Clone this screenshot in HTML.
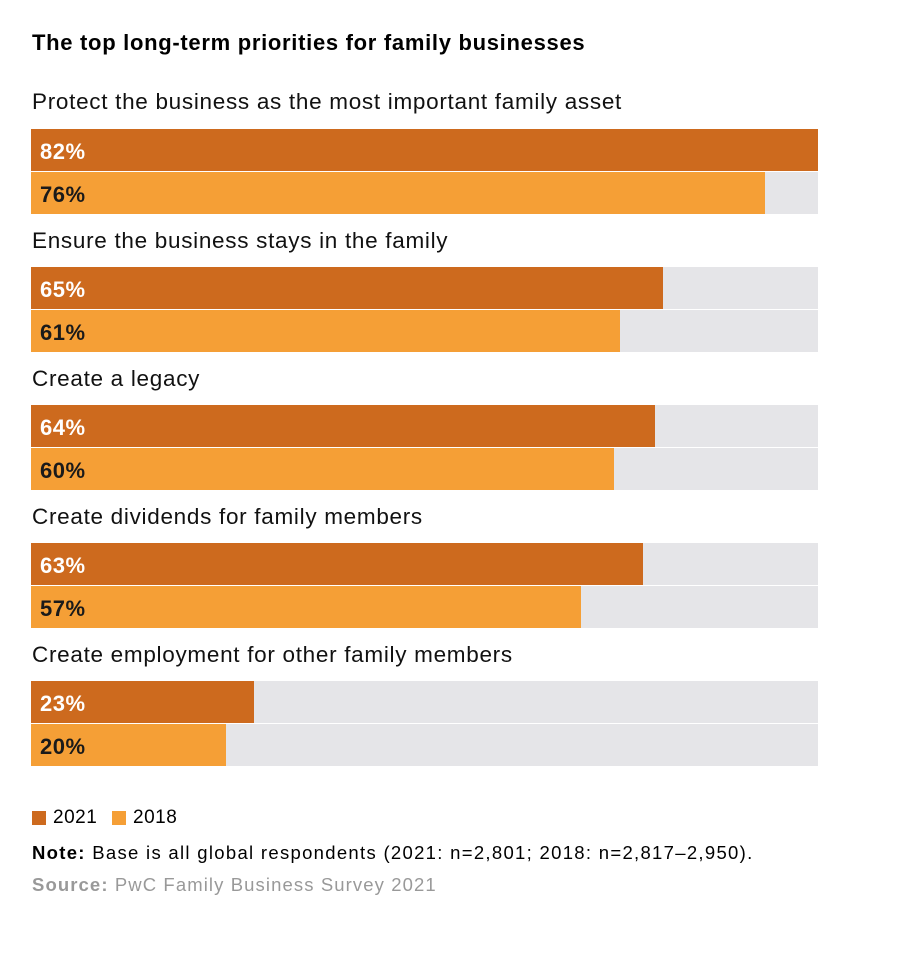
<!DOCTYPE html>
<html><head><meta charset="utf-8"><style>
body{margin:0;width:905px;height:955px;background:#fff;font-family:"Liberation Sans",sans-serif;position:relative;overflow:hidden}
div{position:absolute}
.t{left:32px;top:30px;font-size:22px;letter-spacing:0.7px;font-weight:bold;color:#000;white-space:nowrap}
.l{left:32px;font-size:22.5px;letter-spacing:0.7px;color:#111;white-space:nowrap}
.bg{left:31px;width:787px;height:42px;background:#e5e5e8}
.b{left:0;top:0;height:42px}
.d{background:#cd6a1e}.o{background:#f59f36}
.v{left:9px;top:10px;font-size:22px;letter-spacing:0.5px;font-weight:bold}
.d .v{color:#fff}.o .v{color:#1a1a1a}
.sq{width:14px;height:14px;top:811px}
.s{font-size:18.5px;letter-spacing:1.3px;white-space:nowrap;left:32px}
</style></head><body>
<div class="t">The top long-term priorities for family businesses</div>

<div class="l" style="top:89px">Protect the business as the most important family asset</div>
<div class="bg" style="top:129px"><div class="b d" style="width:787px"><div class="v">82%</div></div></div>
<div class="bg" style="top:172px"><div class="b o" style="width:734px"><div class="v">76%</div></div></div>

<div class="l" style="top:228px">Ensure the business stays in the family</div>
<div class="bg" style="top:267px"><div class="b d" style="width:632px"><div class="v">65%</div></div></div>
<div class="bg" style="top:310px"><div class="b o" style="width:589px"><div class="v">61%</div></div></div>

<div class="l" style="top:366px">Create a legacy</div>
<div class="bg" style="top:405px"><div class="b d" style="width:624px"><div class="v">64%</div></div></div>
<div class="bg" style="top:448px"><div class="b o" style="width:583px"><div class="v">60%</div></div></div>

<div class="l" style="top:504px">Create dividends for family members</div>
<div class="bg" style="top:543px"><div class="b d" style="width:612px"><div class="v">63%</div></div></div>
<div class="bg" style="top:586px"><div class="b o" style="width:550px"><div class="v">57%</div></div></div>

<div class="l" style="top:642px">Create employment for other family members</div>
<div class="bg" style="top:681px"><div class="b d" style="width:223px"><div class="v">23%</div></div></div>
<div class="bg" style="top:724px"><div class="b o" style="width:195px"><div class="v">20%</div></div></div>

<div class="sq d" style="left:32px"></div><div class="s" style="left:53px;top:807px;font-size:19px;letter-spacing:0.5px">2021</div>
<div class="sq o" style="left:112px"></div><div class="s" style="left:133px;top:807px;font-size:19px;letter-spacing:0.5px">2018</div>
<div class="s" style="top:842px;color:#000"><b>Note:</b> Base is all global respondents (2021: n=2,801; 2018: n=2,817–2,950).</div>
<div class="s" style="top:874px;color:#999;letter-spacing:1.1px"><b>Source:</b> PwC Family Business Survey 2021</div>
</body></html>
